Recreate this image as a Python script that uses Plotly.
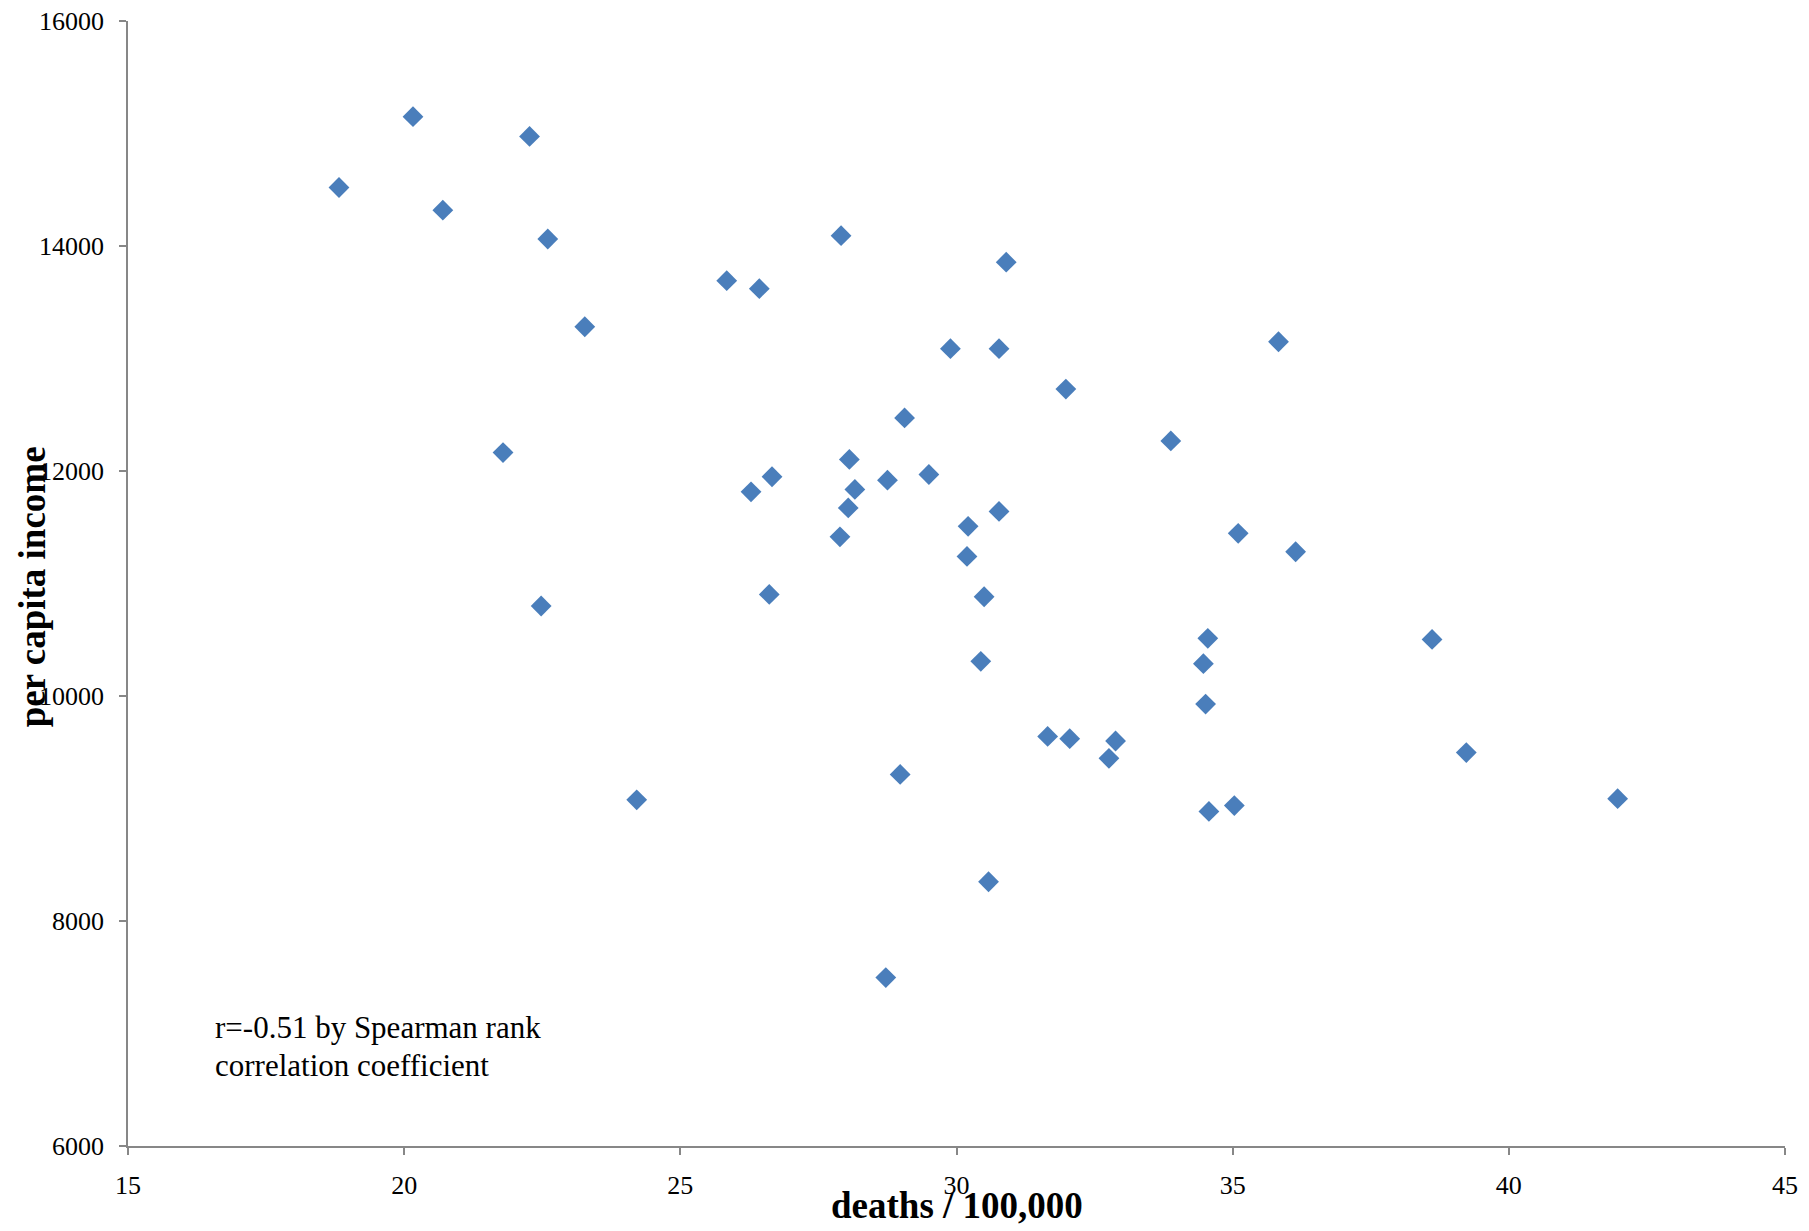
import plotly.graph_objects as go

deaths = [18.82, 20.16, 20.70, 22.27, 22.60, 23.27, 21.79, 22.48, 24.21, 25.84,
          26.43, 26.28, 26.66, 26.61, 27.91, 27.89, 28.06, 28.16, 28.04, 28.75,
          29.06, 29.50, 28.98, 28.72, 29.89, 30.77, 30.90, 30.21, 30.19, 30.77,
          30.50, 30.44, 30.58, 31.98, 31.65, 32.05, 32.76, 32.88, 33.88, 34.55,
          34.47, 34.51, 34.57, 35.03, 35.10, 35.83, 36.14, 38.61, 39.23, 41.97]
income = [14520, 15150, 14318, 14974, 14062, 13282, 12164, 10800, 9077, 13692,
          13621, 11815, 11949, 10903, 14092, 11415, 12103, 11836, 11672, 11918,
          12472, 11969, 9303, 7497, 13087, 13087, 13856, 11508, 11241, 11641,
          10882, 10308, 8349, 12728, 9641, 9621, 9446, 9600, 12267, 10513,
          10287, 9928, 8974, 9026, 11446, 13149, 11282, 10503, 9497, 9087]

x_ticks = [15, 20, 25, 30, 35, 40, 45]
y_ticks = [6000, 8000, 10000, 12000, 14000, 16000]

x_title = "deaths / 100,000"
y_title = "per capita income"
note_lines = ["r=-0.51 by Spearman rank", "correlation coefficient"]

FONT = "Liberation Serif"
AXIS_COLOR = "#878787"

fig = go.Figure()
fig.add_trace(go.Scatter(
    x=deaths, y=income, mode="markers",
    marker=dict(symbol="diamond", size=16, color="#4a7ebb", line=dict(width=0)),
    showlegend=False, hoverinfo="x+y",
))

axis_common = dict(
    showgrid=False, zeroline=False, showline=True, linecolor=AXIS_COLOR, linewidth=1.5,
    ticks="outside", ticklen=7, tickwidth=1.5, tickcolor=AXIS_COLOR,
    tickfont=dict(family=FONT, size=26, color="#000000"),
    ticklabeloverflow="allow", automargin=False,
)

fig.update_xaxes(range=[15, 45], tickvals=x_ticks, ticktext=[str(v) for v in x_ticks],
                 ticklabelstandoff=8, **axis_common)
fig.update_yaxes(range=[6000, 16000], tickvals=y_ticks, ticktext=[str(v) for v in y_ticks],
                 ticklabelstandoff=10, **axis_common)

annotations = [
    dict(text=f"<b>{x_title}</b>", xref="paper", yref="paper", x=0.5, y=-0.053,
         xanchor="center", yanchor="middle", showarrow=False,
         font=dict(family=FONT, size=37, color="#000000")),
    dict(text=f"<b>{y_title}</b>", xref="paper", yref="paper", x=-0.0577, y=0.497,
         xanchor="center", yanchor="middle", showarrow=False, textangle=-90,
         font=dict(family=FONT, size=37, color="#000000")),
]
note_y = [0.1057, 0.072]
for line, yy in zip(note_lines, note_y):
    annotations.append(dict(text=line, xref="paper", yref="paper", x=0.051, y=yy,
                            xanchor="left", yanchor="middle", showarrow=False,
                            font=dict(family=FONT, size=31, color="#000000")))

fig.update_layout(
    width=1801, height=1223,
    margin=dict(l=120, r=24, t=13, b=85, autoexpand=False),
    paper_bgcolor="white", plot_bgcolor="white",
    annotations=annotations,
)

fig.write_html("out.html")
